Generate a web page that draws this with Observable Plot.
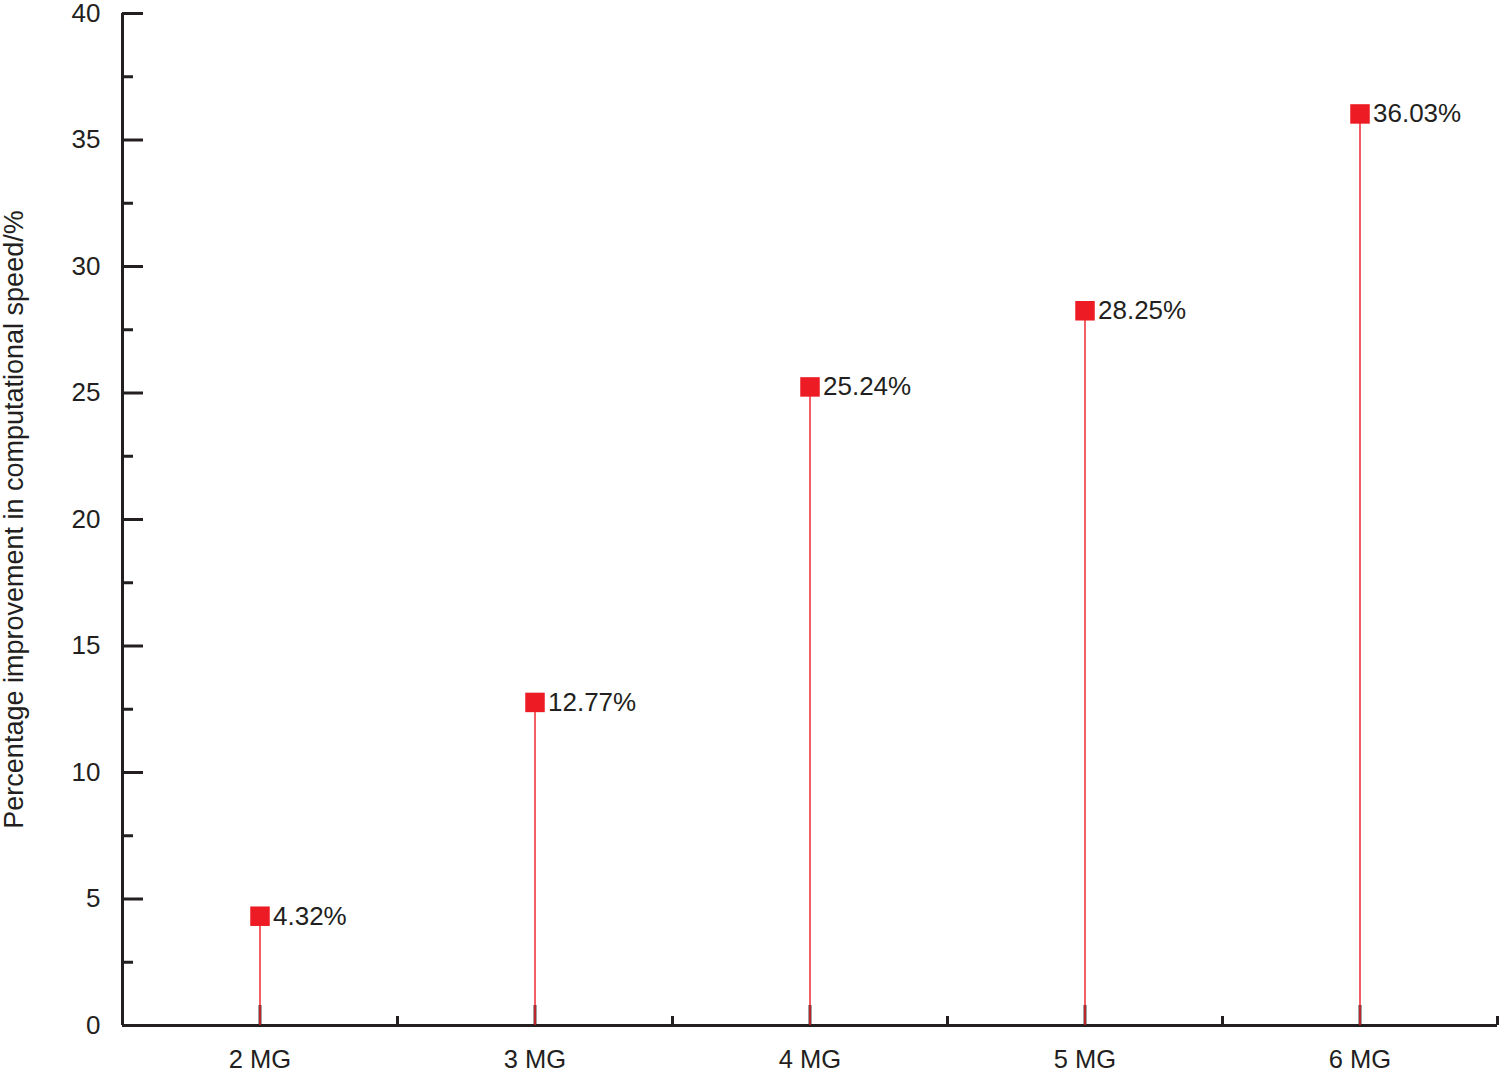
<!DOCTYPE html>
<html>
<head>
<meta charset="utf-8">
<script src="https://cdn.jsdelivr.net/npm/d3@7"></script>
<script src="https://cdn.jsdelivr.net/npm/@observablehq/plot@0.6"></script>
<style>
  html, body { margin: 0; padding: 0; background: #fff; }
  #chart svg { display: block; overflow: visible; }
</style>
</head>
<body>
<div id="chart"></div>
<script>
const categories = ["2 MG", "3 MG", "4 MG", "5 MG", "6 MG"];
const values = [4.32, 12.77, 25.24, 28.25, 36.03];
const labels = ["4.32%", "12.77%", "25.24%", "28.25%", "36.03%"];
const majorTicks = [0, 5, 10, 15, 20, 25, 30, 35, 40];
const minorTicks = [2.5, 7.5, 12.5, 17.5, 22.5, 27.5, 32.5, 37.5];
const yTitle = "Percentage improvement in computational speed/%";

const data = categories.map((c, i) => ({pos: i + 1, cat: c, value: values[i], label: labels[i]}));
const boundaries = categories.map((c, i) => i + 1.5);

const W = 1504, H = 1073;
const mL = 122, mR = 7, mT = 13, mB = 48;
const fw = W - mL - mR, fh = H - mT - mB;
const ink = "#231f20";
const red = "#ed1c24";
const font = "'Liberation Sans', Arial, Helvetica, sans-serif";

const chart = Plot.plot({
  width: W,
  height: H,
  marginLeft: mL,
  marginRight: mR,
  marginTop: mT,
  marginBottom: mB,
  style: {fontFamily: font, fontSize: "26px", color: ink, background: "#fff"},
  x: {type: "linear", domain: [0.5, categories.length + 0.5]},
  y: {domain: [0, 40]},
  marks: [
    Plot.axisY({ticks: majorTicks, tickSize: 0, tickPadding: 22, fontSize: 26,
      label: null}),
    Plot.text([yTitle], {frameAnchor: "left", rotate: -90, dx: -108, fontSize: 27, fill: ink, textAnchor: "middle", lineAnchor: "middle"}),
    Plot.axisX({ticks: data.map(d => d.pos), tickFormat: (d) => categories[d - 1], tickSize: 0, tickPadding: 24, fontSize: 25.5, label: null}),
    // y axis ticks (inward)
    Plot.tickY(majorTicks, {y: d => d, insetRight: fw - 21, stroke: ink, strokeWidth: 3}),
    Plot.tickY(minorTicks, {y: d => d, insetRight: fw - 11, stroke: ink, strokeWidth: 3}),
    // x boundary ticks
    Plot.tickX(boundaries, {x: d => d, insetTop: fh - 9, stroke: ink, strokeWidth: 3}),
    // center ticks
    Plot.tickX(data, {x: "pos", insetTop: fh - 20, stroke: "#444", strokeWidth: 3}),
    // axis lines
    Plot.ruleX([0.5], {stroke: ink, strokeWidth: 3}),
    Plot.ruleY([0], {stroke: ink, strokeWidth: 3}),
    // stems
    Plot.ruleX(data, {x: "pos", y1: 0, y2: "value", stroke: red, strokeWidth: 1.4}),
    Plot.dot(data, {x: "pos", y: "value", symbol: "square", r: 11, fill: red, stroke: "none"}),
    Plot.text(data, {x: "pos", y: "value", text: "label", textAnchor: "start", dx: 13, fontSize: 26, fill: ink, lineAnchor: "middle"})
  ]
});
document.getElementById("chart").appendChild(chart);
</script>
</body>
</html>
